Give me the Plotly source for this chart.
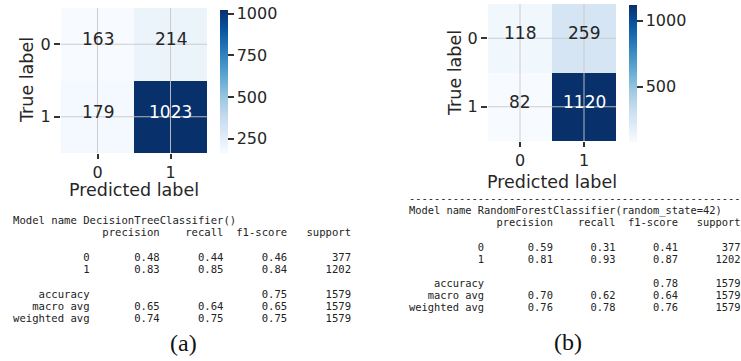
import plotly.graph_objects as go
import plotly.express as px

W, H = 741, 361

# ---------------- data ----------------
labels = [0, 1]
cm_dt = [[163, 214], [179, 1023]]
cm_rf = [[118, 259], [82, 1120]]
cbar_ticks_dt = [250, 500, 750, 1000]
cbar_ticks_rf = [500, 1000]

model_dt = "DecisionTreeClassifier()"
model_rf = "RandomForestClassifier(random_state=42)"
report_headers = ["precision", "recall", "f1-score", "support"]
report_classes = ["0", "1"]
class_support = [377, 1202]
total_support = 1579

dt_precision = [0.48, 0.83]
dt_recall = [0.44, 0.85]
dt_f1 = [0.46, 0.84]
dt_accuracy = 0.75
dt_macro = [0.65, 0.64, 0.65]
dt_weighted = [0.74, 0.75, 0.75]

rf_precision = [0.59, 0.81]
rf_recall = [0.31, 0.93]
rf_f1 = [0.41, 0.87]
rf_accuracy = 0.78
rf_macro = [0.70, 0.62, 0.64]
rf_weighted = [0.76, 0.78, 0.76]

panel_labels = ["(a)", "(b)"]

# ---------------- helpers ----------------
def px_x(x):
    return x / W


def px_y(y):
    return 1 - y / H


blues = px.colors.sequential.Blues
n = len(blues)
colorscale = [[i / (n - 1), c] for i, c in enumerate(blues)]
TXT = "#262626"


def report_lines(model, prec, rec, f1, sup, acc, macro, weighted, total):
    w = 12
    lines = [f"Model name {model}"]
    lines.append(f"{'':>{w}s} " + "".join(f" {h:>9}" for h in report_headers))
    lines.append("")
    for c, p, r, f, s in zip(report_classes, prec, rec, f1, sup):
        lines.append(f"{c:>{w}s}  {p:>9.2f} {r:>9.2f} {f:>9.2f} {s:>9}")
    lines.append("")
    lines.append(f"{'accuracy':>{w}s}  {'':>9} {'':>9} {acc:>9.2f} {total:>9}")
    lines.append(f"{'macro avg':>{w}s}  {macro[0]:>9.2f} {macro[1]:>9.2f} {macro[2]:>9.2f} {total:>9}")
    lines.append(f"{'weighted avg':>{w}s}  {weighted[0]:>9.2f} {weighted[1]:>9.2f} {weighted[2]:>9.2f} {total:>9}")
    return lines


fig = go.Figure()
annotations = []
shapes = []


def add_cm(cm, xa, ya, cb_x, cb_top, cb_bot, ticks):
    flat = [v for row in cm for v in row]
    zmin, zmax = min(flat), max(flat)
    fig.add_trace(go.Heatmap(
        z=cm, x=labels, y=labels, xaxis=xa, yaxis=ya,
        colorscale=colorscale, zmin=zmin, zmax=zmax, hoverinfo="skip",
        colorbar=dict(
            x=px_x(cb_x), xanchor="left", y=px_y(cb_bot), yanchor="bottom",
            len=(cb_bot - cb_top) / H, lenmode="fraction",
            thickness=8, thicknessmode="pixels", xpad=0, ypad=0,
            outlinewidth=0, tickvals=ticks, ticks="outside", ticklen=6,
            tickwidth=2, tickcolor="#333", tickfont=dict(size=16, color=TXT),
        ),
    ))
    thresh = (zmin + zmax) / 2
    for i, row in enumerate(cm):
        for j, v in enumerate(row):
            annotations.append(dict(
                x=labels[j], y=labels[i], xref=xa, yref=ya, text=str(v),
                xanchor="center", yanchor="middle",
                showarrow=False, yshift=5,
                font=dict(size=17, color="white" if v > thresh else TXT),
            ))
    for c in labels:
        shapes.append(dict(type="line", xref=xa, yref=f"{ya} domain", x0=c, x1=c, y0=0, y1=1,
                           line=dict(color="rgba(200,200,200,0.9)", width=1), layer="above"))
        shapes.append(dict(type="line", yref=ya, xref=f"{xa} domain", y0=c, y1=c, x0=0, x1=1,
                           line=dict(color="rgba(200,200,200,0.9)", width=1), layer="above"))


add_cm(cm_dt, "x", "y", 220, 10, 153, cbar_ticks_dt)
add_cm(cm_rf, "x2", "y2", 629, 5, 142, cbar_ticks_rf)

axis_common = dict(
    tickvals=labels, ticks="outside", tickwidth=2, tickcolor="#333",
    showgrid=False, zeroline=False, showline=False,
    tickfont=dict(size=16, color=TXT), fixedrange=True, automargin=False,
)

fig.update_layout(
    xaxis=dict(domain=[px_x(61), px_x(207)], anchor="y", range=[-0.5, 1.5], ticklen=5, **axis_common),
    yaxis=dict(domain=[px_y(153), px_y(8)], anchor="x", range=[1.5, -0.5], ticklen=6, **axis_common),
    xaxis2=dict(domain=[px_x(488), px_x(616)], anchor="y2", range=[-0.5, 1.5], ticklen=5, **axis_common),
    yaxis2=dict(domain=[px_y(141), px_y(4)], anchor="x2", range=[1.5, -0.5], ticklen=6, **axis_common),
)

# axis titles
for (tx, ty) in [(27, 80), (455, 73)]:
    annotations.append(dict(x=px_x(tx), y=px_y(ty), xref="paper", yref="paper", text="True label",
                            xanchor="center", yanchor="middle",
                            textangle=-90, showarrow=False, font=dict(size=17.5, color=TXT)))
for (tx, ty) in [(134, 190), (552, 182)]:
    annotations.append(dict(x=px_x(tx), y=px_y(ty), xref="paper", yref="paper", text="Predicted label",
                            xanchor="center", yanchor="middle",
                            showarrow=False, font=dict(size=17.5, color=TXT)))

# reports
mono = "DejaVu Sans Mono"


def add_lines(lines, x0, y0, dy, fs):
    for k, line in enumerate(lines):
        if not line:
            continue
        annotations.append(dict(
            x=px_x(x0), y=px_y(y0 + k * dy), xref="paper", yref="paper",
            xanchor="left", yanchor="middle", showarrow=False,
            text=line.replace(" ", "\u00a0"),
            font=dict(family=mono, size=fs, color="#222"),
        ))


lines_dt = report_lines(model_dt, dt_precision, dt_recall, dt_f1, class_support,
                        dt_accuracy, dt_macro, dt_weighted, total_support)
lines_rf = ["-" * 53] + report_lines(model_rf, rf_precision, rf_recall, rf_f1, class_support,
                                     rf_accuracy, rf_macro, rf_weighted, total_support)
add_lines(lines_dt, 11, 220, 12.29, 10.6)
add_lines(lines_rf, 407, 198.3, 12.05, 10.4)

for lab, (tx, ty) in zip(panel_labels, [(183, 343), (568, 342)]):
    annotations.append(dict(x=px_x(tx), y=px_y(ty), xref="paper", yref="paper", text=lab,
                            xanchor="center", yanchor="middle",
                            showarrow=False, font=dict(family="Liberation Serif", size=24, color="#111")))

fig.update_layout(
    width=W, height=H, margin=dict(l=0, r=0, t=0, b=0, pad=0, autoexpand=False),
    paper_bgcolor="white", plot_bgcolor="white",
    font=dict(family="DejaVu Sans", color=TXT),
    annotations=annotations, shapes=shapes, showlegend=False, hovermode=False,
)

fig.write_html(
    "out.html",
    config={"displayModeBar": False, "staticPlot": True},
    post_script="document.body.style.margin='0';document.body.style.overflow='hidden';",
)
